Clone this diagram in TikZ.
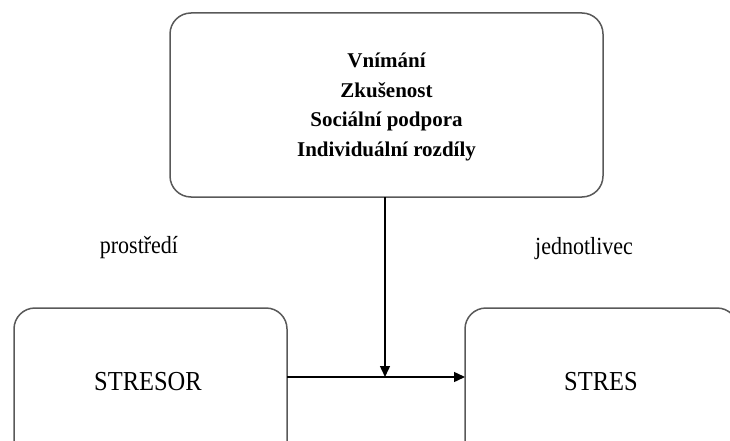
\documentclass[tikz,border=0pt]{standalone}
\usepackage{fontspec}
\setmainfont{Liberation Serif}
\usetikzlibrary{arrows.meta}
\begin{document}
\begin{tikzpicture}[x=1pt,y=-1pt,
  box/.style={draw=black!65,line width=1.5pt,rounded corners=21pt},
  conn/.style={line width=1.4pt,-{Triangle[length=11pt,width=10pt]}},
  bold/.style={inner sep=0pt,anchor=base,font=\bfseries\fontsize{21}{24}\selectfont},
  lbl/.style={inner sep=0pt,anchor=base,font=\fontsize{22}{24}\selectfont},
  big/.style={inner sep=0pt,anchor=base,font=\fontsize{24.5}{28}\selectfont}]
\useasboundingbox (0,0) rectangle (730,441);
\clip (0,0) rectangle (730,441);
\draw[box] (170,13) rectangle (603,197);
\node[bold] (t1) at (386.5,68) {Vnímání};
\node[bold] (t2) at (386.5,97.5) {Zkušenost};
\node[bold] (t3) at (386.5,127) {Sociální podpora};
\node[bold] (t4) at (386.5,156.5) {Individuální rozdíly};
\coordinate (topb) at (385,197);
\draw[box] (14,308) rectangle (287,480);
\draw[box] (465,308) rectangle (738,480);
\node[big] (stresor) at (148,390) {\scalebox{1}[1.12]{STRESOR}};
\node[big] (stres) at (601,390) {\scalebox{1}[1.12]{STRES}};
\coordinate (a) at (287,377);
\coordinate (b) at (465,377);
\coordinate (m) at (385,377);
\draw[conn] (a) -- (b);
\draw[conn] (topb) -- (m);
\node[lbl] (pro) at (139,253) {\scalebox{1}[1.12]{prostředí}};
\node[lbl] (jed) at (584,254) {\scalebox{1}[1.12]{jednotlivec}};
\end{tikzpicture}
\end{document}
